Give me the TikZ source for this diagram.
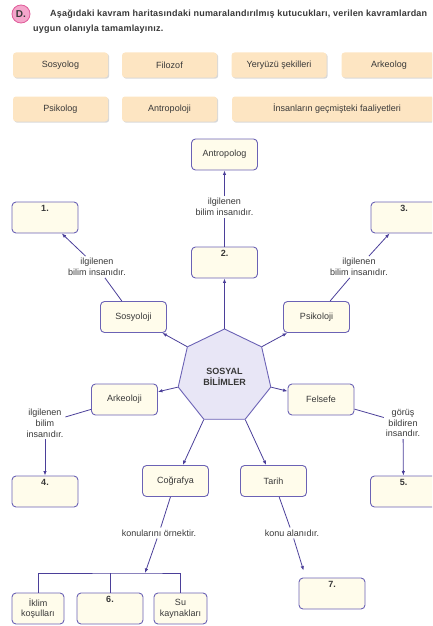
\documentclass[tikz,border=0pt]{standalone}
\usepackage{fontspec}
\setmainfont{Liberation Sans}
\usepackage{xcolor}
\usepackage{tikz}
\usetikzlibrary{positioning, arrows.meta, calc, shapes.geometric, shadows}

\definecolor{boxline}{HTML}{6B62B5}
\definecolor{boxfill}{HTML}{FFFCEB}
\definecolor{heptfill}{HTML}{E8E6F6}
\definecolor{linkblue}{HTML}{4B3F99}
\definecolor{textgray}{HTML}{383838}
\definecolor{bankfill}{HTML}{FDE5C2}
\definecolor{badgepink}{HTML}{F4A6CB}
\definecolor{badgeline}{HTML}{E05C9A}

\begin{document}
\begin{tikzpicture}[x=1pt, y=-1pt,
    font=\fontsize{9}{10.8}\selectfont,
    bankbox/.style={rectangle, rounded corners=3pt, fill=bankfill, text=textgray, minimum width=95pt, minimum height=25pt,
        drop shadow={shadow xshift=1.2pt, shadow yshift=-1.2pt, fill=black!30}},
    mapbox/.style={rectangle, rounded corners=4pt, draw=boxline, line width=0.9pt, fill=boxfill, text=textgray,
        minimum width=66pt, minimum height=31pt, align=center},
    numbox/.style={mapbox, font=\fontsize{9}{10.8}\selectfont\bfseries, text height=6pt, text depth=19pt, inner sep=3pt},
    relation/.style={align=center, text=textgray, inner sep=2pt},
    tasktext/.style={anchor=base west, font=\fontsize{9}{10.8}\selectfont\bfseries\addfontfeatures{LetterSpace=2.5}, text=textgray, inner sep=0pt},
    link/.style={draw=linkblue, line width=0.8pt},
    arrowlink/.style={link, -{Latex[length=4.5pt,width=3.5pt]}}
]
\clip (0,0) rectangle (432,626);

% task heading
\node[circle, fill=badgepink, draw=badgeline, line width=0.8pt, minimum size=18pt, inner sep=0pt,
    font=\fontsize{10}{12}\selectfont\bfseries, text=textgray] (badge) at (21,14) {D.};
\node[tasktext] (task1) at (50,17)
    {Aşağıdaki kavram haritasındaki numaralandırılmış kutucukları, verilen kavramlardan};
\node[tasktext] (task2) at (33,32) {uygun olanıyla tamamlayınız.};

% word bank
\node[bankbox] (bSosyolog) at (60.5,65) {Sosyolog};
\node[bankbox] (bFilozof) at (169.5,65) {Filozof};
\node[bankbox] (bYeryuzu) at (279,65) {Yeryüzü şekilleri};
\node[bankbox] (bArkeolog) at (389,65) {Arkeolog};
\node[bankbox] (bPsikolog) at (60.5,109) {Psikolog};
\node[bankbox] (bAntropoloji) at (169.5,109) {Antropoloji};
\node[bankbox, minimum width=210pt] (bFaaliyet) at (337,109) {İnsanların geçmişteki faaliyetleri};

% concept map
\node[regular polygon, regular polygon sides=7, minimum size=95pt, draw=boxline, line width=0.9pt, fill=heptfill,
    inner sep=0pt, align=center, font=\fontsize{9}{10.8}\selectfont\bfseries, text=textgray] (sosyal) at (224.5,376.5) {SOSYAL\\BİLİMLER};

\node[mapbox] (antropolog) at (224.5,154.5) {Antropolog};
\node[numbox] (box2) at (224.5,262.5) {2.};
\node[numbox] (box1) at (45,217.5) {1.};
\node[numbox] (box3) at (404,217.5) {3.};
\node[mapbox] (sosyoloji) at (133.5,317) {Sosyoloji};
\node[mapbox] (psikoloji) at (316.5,317) {Psikoloji};
\node[mapbox] (arkeoloji) at (124.5,399.5) {Arkeoloji};
\node[mapbox] (felsefe) at (321,399.5) {Felsefe};
\node[numbox] (box4) at (45,491.5) {4.};
\node[numbox] (box5) at (403.5,491.5) {5.};
\node[mapbox] (cografya) at (175.5,481) {Coğrafya};
\node[mapbox] (tarih) at (273.5,481) {Tarih};
\node[mapbox, minimum width=52pt] (iklim) at (38,608.5) {İklim\\koşulları};
\node[numbox] (box6) at (110,608.5) {6.};
\node[mapbox, minimum width=53pt] (su) at (180.5,608.5) {Su\\kaynakları};
\node[numbox] (box7) at (332,593.5) {7.};

\node[relation] (rel2) at (224.5,207) {ilgilenen\\bilim insanıdır.};
\node[relation] (rel1) at (97,267) {ilgilenen\\bilim insanıdır.};
\node[relation] (rel3) at (359,267) {ilgilenen\\bilim insanıdır.};
\node[relation] (rel4) at (45,423) {ilgilenen\\bilim\\insanıdır.};
\node[relation] (rel5) at (403,423) {görüş\\bildiren\\insandır.};
\node[relation] (relC) at (159,533) {konularını örnektir.};
\node[relation] (relT) at (292,533) {konu alanıdır.};
\coordinate (brk) at (145,573);

% connectors
\draw[arrowlink] (sosyal.corner 1) -- (box2);
\draw[link] (box2) -- (rel2);
\draw[arrowlink] (rel2) -- (antropolog);
\draw[arrowlink] (sosyal.corner 2) -- (sosyoloji);
\draw[link] (sosyoloji) -- (rel1);
\draw[arrowlink] (rel1) -- (box1);
\draw[arrowlink] (sosyal.corner 7) -- (psikoloji);
\draw[link] (psikoloji) -- (rel3);
\draw[arrowlink] (rel3) -- (box3);
\draw[arrowlink] (sosyal.corner 3) -- (arkeoloji);
\draw[link] (arkeoloji) -- (rel4);
\draw[arrowlink] (rel4) -- (box4);
\draw[arrowlink] (sosyal.corner 6) -- (felsefe);
\draw[link] (felsefe) -- (rel5);
\draw[arrowlink] (rel5) -- (box5);
\draw[arrowlink] (sosyal.corner 4) -- (cografya);
\draw[link] (cografya) -- (relC);
\draw[arrowlink] (relC) -- (brk);
\draw[link] (iklim.north) |- (brk) -| (su.north);
\draw[link] (box6.north) -- (box6.north |- brk);
\draw[arrowlink] (sosyal.corner 5) -- (tarih);
\draw[link] (tarih) -- (relT);
\draw[arrowlink] (relT) -- ($(box7.north west)+(5,-7)$);
\end{tikzpicture}
\end{document}
